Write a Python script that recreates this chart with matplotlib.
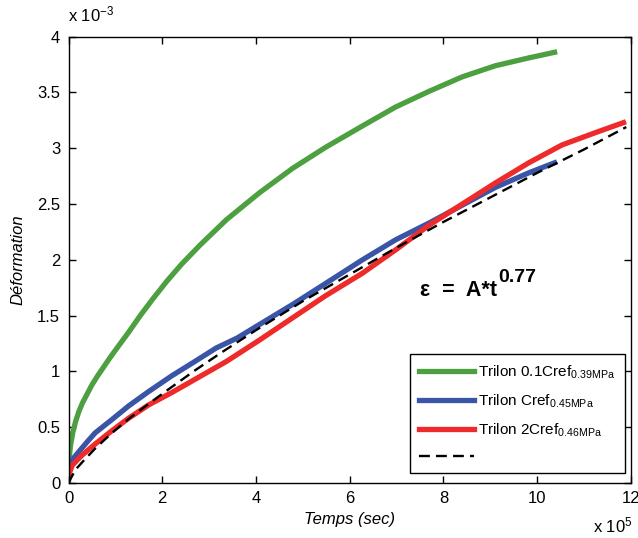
import matplotlib
matplotlib.use("Agg")
import matplotlib.pyplot as plt
from matplotlib.ticker import FuncFormatter

plt.rcParams['font.family'] = ['Liberation Sans', 'DejaVu Sans']
plt.rcParams['mathtext.fontset'] = 'custom'
plt.rcParams['mathtext.rm'] = 'Liberation Sans'
plt.rcParams['mathtext.it'] = 'Liberation Sans:italic'
plt.rcParams['mathtext.bf'] = 'Liberation Sans:bold'

# time in units of 1e5 s, strain in units of 1e-3
green_t = [0.0, 0.01, 0.04, 0.09, 0.15, 0.22, 0.30, 0.40, 0.50, 0.62, 0.75, 0.88, 1.0, 1.28,
           1.53, 1.78, 2.1, 2.41, 2.8, 3.37, 4.07, 4.78, 5.49, 6.27, 6.98, 7.69, 8.40, 9.11,
           9.82, 10.37]
green_e = [0.0, 0.20, 0.33, 0.45, 0.55, 0.64, 0.72, 0.80, 0.88, 0.96, 1.04, 1.12, 1.19, 1.35,
           1.50, 1.64, 1.81, 1.96, 2.13, 2.36, 2.60, 2.82, 3.01, 3.20, 3.37, 3.51, 3.64, 3.74,
           3.81, 3.86]

blue_t = [0.0, 0.02, 0.05, 0.12, 0.22, 0.40, 0.57, 0.93, 1.28, 1.71, 2.2, 2.66, 3.15, 3.6,
          4.07, 4.78, 5.49, 6.27, 6.98, 7.69, 8.40, 9.11, 9.82, 10.37]
blue_e = [0.05, 0.12, 0.18, 0.23, 0.28, 0.37, 0.45, 0.57, 0.69, 0.82, 0.96, 1.08, 1.21, 1.30,
          1.42, 1.60, 1.79, 2.00, 2.18, 2.33, 2.49, 2.65, 2.78, 2.87]

red_t = [0.0, 0.02, 0.08, 0.29, 0.57, 0.93, 1.28, 1.71, 2.2, 2.66, 3.37, 4.07, 4.78, 5.49,
         6.27, 6.98, 7.69, 8.40, 9.11, 9.82, 10.53, 11.24, 11.84]
red_e = [0.03, 0.09, 0.16, 0.25, 0.35, 0.47, 0.58, 0.70, 0.81, 0.92, 1.09, 1.28, 1.48, 1.68,
         1.88, 2.09, 2.31, 2.50, 2.69, 2.87, 3.03, 3.14, 3.23]

fit_t = [0.0, 0.02, 0.15, 0.3, 0.57, 0.93, 1.3, 1.71, 2.2, 2.7, 3.3, 4.0, 5.0, 6.0, 7.0, 8.0,
         9.0, 10.0, 11.0, 11.9]
fit_e = [0.0, 0.02, 0.12, 0.19, 0.31, 0.45, 0.58, 0.71, 0.86, 1.01, 1.18, 1.37, 1.63, 1.87,
         2.11, 2.34, 2.56, 2.78, 2.99, 3.19]

labels = [r"Trilon 0.1Cref$_{\mathregular{0.39MPa}}$",
          r"Trilon Cref$_{\mathregular{0.45MPa}}$",
          r"Trilon 2Cref$_{\mathregular{0.46MPa}}$",
          " "]

xticks = [0, 2, 4, 6, 8, 10, 12]
yticks = [0, 0.5, 1, 1.5, 2, 2.5, 3, 3.5, 4]

fig = plt.figure(figsize=(6.38, 5.38), dpi=100)
ax = fig.add_axes([0.1074, 0.1022, 0.8816, 0.8296])

ax.plot(green_t, green_e, color='#4ca040', lw=3.8, label=labels[0])
ax.plot(blue_t, blue_e, color='#3a55a8', lw=3.8, label=labels[1])
ax.plot(red_t, red_e, color='#ee2a2a', lw=3.8, label=labels[2])
ax.plot(fit_t, fit_e, color='black', lw=1.7, ls=(0, (4.6, 2.6)), label=labels[3])

ax.set_xlim(0, 12)
ax.set_ylim(0, 4)
ax.set_xticks(xticks)
ax.set_yticks(yticks)
ax.yaxis.set_major_formatter(FuncFormatter(lambda v, p: f"{v:g}"))
ax.xaxis.set_major_formatter(FuncFormatter(lambda v, p: f"{v:g}"))
ax.tick_params(direction='in', length=5, width=1, top=True, right=True, labelsize=12, pad=6)
for s in ax.spines.values():
    s.set_linewidth(1)

ax.set_xlabel("Temps (sec)", fontsize=12, style='italic', labelpad=4)
ax.set_ylabel("Déformation", fontsize=12, style='italic', labelpad=8)

fig.text(0.107, 0.955, r"x 10$^{\mathregular{-3}}$", fontsize=12, ha='left', va='bottom')
fig.text(0.992, 0.005, r"x 10$^{\mathregular{5}}$", fontsize=12, ha='right', va='bottom')

main = ax.text(7.50, 1.68, "ε  =  A*t", fontsize=15.5, fontweight='bold',
               ha='left', va='baseline')
ax.annotate("0.77", xy=(1, 0), xycoords=main, xytext=(0.5, 13.5),
            textcoords='offset points', fontsize=14, fontweight='bold',
            ha='left', va='baseline')

leg = ax.legend(loc='lower right', bbox_to_anchor=(0.989, 0.022), fontsize=11,
                frameon=True, fancybox=False, edgecolor='black', framealpha=1,
                handlelength=3.6, handletextpad=0.3, labelspacing=0.75, borderpad=0.6,
                borderaxespad=0)
leg.get_frame().set_linewidth(1)

fig.savefig("out.png", dpi=100)
